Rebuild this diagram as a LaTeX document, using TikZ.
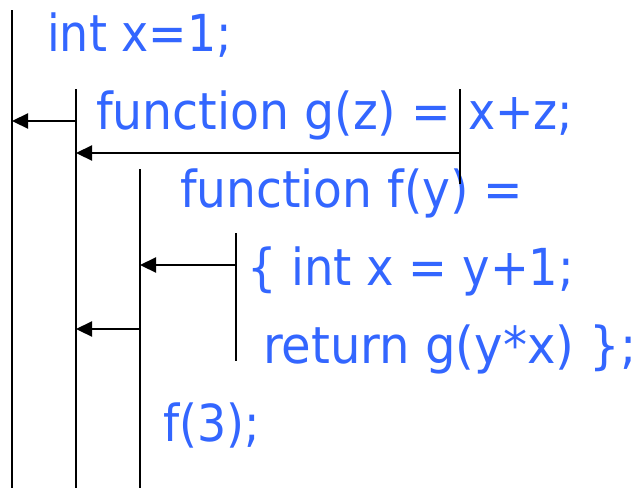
\documentclass[tikz,border=0pt]{standalone}
\usepackage{fontspec}
\usepackage{graphicx}
\setmainfont{DejaVu Sans Condensed}
\usetikzlibrary{arrows.meta}
\definecolor{codeblue}{RGB}{51,102,255}
\newcommand{\wide}[2]{\scalebox{#1}[1]{#2}}
\tikzset{
  code/.style={anchor=base west, inner sep=0pt, text=codeblue, font=\fontsize{51}{55}\selectfont},
  scopeline/.style={line width=2.2pt, draw=black},
  link/.style={line width=2.2pt, draw=black, -{Triangle[length=16pt,width=15pt]}}
}
\begin{document}
\begin{tikzpicture}[x=1pt,y=-1pt]
\useasboundingbox (0,0) rectangle (639,488);
% text
\node[code] (t1) at (47,51) {int x=1;};
\node[code] (t2) at (96,129) {\wide{1.032}{function g(z) =}};
\node[code] (t2b) at (468,129) {x+z;};
\node[code] (t3) at (180,207) {\wide{1.027}{function f(y) =}};
\node[code] (t4) at (247,285) {\wide{1.012}{\{ int x = y+1;}};
\node[code] (t5) at (263,363) {\wide{1.048}{return g(y*x) \};}};
\node[code] (t6) at (163,441) {f(3);};
% scope lines
\coordinate (a1) at (12,10);  \coordinate (b1) at (12,488);
\coordinate (a2) at (76,89);  \coordinate (b2) at (76,488);
\coordinate (a3) at (140,169); \coordinate (b3) at (140,488);
\coordinate (a4) at (236,233); \coordinate (b4) at (236,361);
\coordinate (a5) at (460,89); \coordinate (b5) at (460,184);
\draw[scopeline] (a1) -- (b1);
\draw[scopeline] (a2) -- (b2);
\draw[scopeline] (a3) -- (b3);
\draw[scopeline] (a4) -- (b4);
\draw[scopeline] (a5) -- (b5);
% static links
\coordinate (s2) at (76,121);  \coordinate (e2) at (12,121);
\coordinate (s5) at (460,153); \coordinate (e5) at (76,153);
\coordinate (s4) at (236,265); \coordinate (e4) at (140,265);
\coordinate (s3) at (140,329); \coordinate (e3) at (76,329);
\draw[link] (s2) -- (e2);
\draw[link] (s5) -- (e5);
\draw[link] (s4) -- (e4);
\draw[link] (s3) -- (e3);
\end{tikzpicture}
\end{document}
